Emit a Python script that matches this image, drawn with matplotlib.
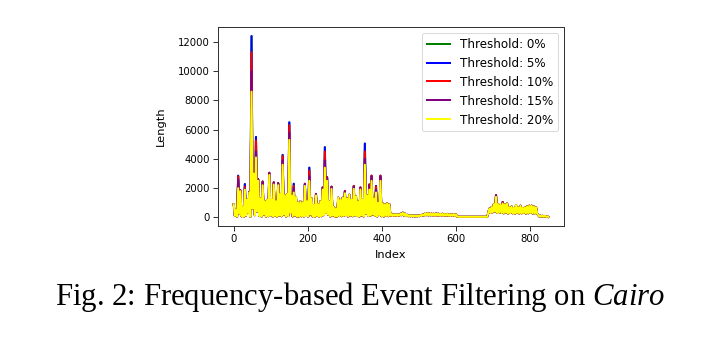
import numpy as np
import matplotlib
matplotlib.use("Agg")
import matplotlib.pyplot as plt

plt.rcParams["mathtext.fontset"] = "custom"
plt.rcParams["mathtext.rm"] = "Liberation Serif"
plt.rcParams["mathtext.it"] = "Liberation Serif:italic"

# Event length per index for the 20% threshold: local maxima (every 6th index)
# and the minima lying between them.
len20_peaks = [
    900, 500, 2000, 1800, 700, 1900, 1200, 1700, 8600, 3000,
    4100, 2500, 1300, 2200, 1100, 1200, 2900, 1200, 2250, 1100,
    2200, 1600, 3600, 1500, 1600, 5300, 1500, 1700, 1400, 1000,
    1100, 1000, 2150, 1100, 2500, 1300, 850, 1500, 900, 1100,
    1900, 3400, 2500, 1100, 1950, 700, 600, 1350, 1200, 1350,
    1650, 1300, 1550, 1200, 1950, 1450, 1100, 1900, 1200, 3600,
    1500, 1900, 2500, 1300, 1700, 1000, 2500, 950, 900, 950,
    900,
    250, 200, 220, 200, 250, 330, 260, 180, 150, 140,
    140, 130, 140, 150, 200, 250, 290, 270, 260, 250,
    270, 260, 240, 250, 230, 240, 220, 210, 230, 200,
    40,
    40, 40, 40, 40, 40, 40, 40, 40, 40, 40, 40, 40, 40,
    600, 700, 900, 1400, 900, 850, 950, 900, 950, 700,
    750, 650, 850, 700, 800, 650, 700, 750, 800, 800,
    750, 700,
    150, 120, 110, 100, 80,
]
len20_troughs = [
    100, 60, 250, 80, 40, 120, 300, 50, 600, 150,
    400, 90, 60, 200, 50, 80, 150, 60, 100, 40,
    130, 80, 200, 60, 90, 300, 70, 120, 50, 40,
    80, 60, 150, 50, 200, 70, 40, 100, 60, 80,
    150, 300, 180, 60, 120, 40, 50, 90, 80, 100,
    150, 60, 120, 80, 140, 90, 60, 130, 70, 250,
    90, 120, 200, 100, 70, 160, 80, 60, 100, 80,
    120, 100, 110, 100, 120, 150, 130, 90, 80, 70,
    70, 60, 70, 80, 100, 130, 150, 140, 130, 120,
    140, 130, 120, 130, 110, 120, 110, 100, 110, 100,
    60,
    40, 40, 40, 40, 40, 40, 40, 40, 40, 40, 40, 40, 40,
    300,
    300, 350, 400, 300, 350, 300, 280, 320, 260, 300,
    280, 250, 300, 260, 280, 300, 250, 280, 300, 260,
    280, 250,
    60, 50, 40, 40, 30,
]

# Indices where the lower thresholds keep longer events than 20%
cap_idx = [12, 18, 30, 42, 48, 54, 60, 66, 78, 96, 108, 120, 132, 150, 162, 192,
           204, 222, 240, 246, 252, 264, 300, 324, 342, 354, 366, 372, 384, 396,
           708, 726]
len15_caps = [2600, 1850, 2000, 1750, 10000, 3050, 4500, 2600, 2400, 3000, 2350,
              2300, 3900, 5800, 2000, 2280, 2800, 1580, 2000, 3900, 2700, 2050,
              1750, 2100, 2000, 4000, 2200, 2800, 1900, 2800, 1500, 1000]
len10_caps = [2800, 1850, 2100, 1750, 11300, 3100, 5250, 2600, 2450, 3050, 2400,
              2350, 4200, 6300, 2150, 2300, 3200, 1600, 2050, 4500, 2750, 2100,
              1800, 2150, 2050, 4500, 2250, 2850, 2100, 2850, 1520, 1050]
len5_caps = [2850, 1850, 2280, 1750, 12400, 3100, 5500, 2600, 2450, 3050, 2400,
             2350, 4270, 6500, 2300, 2300, 3400, 1600, 2050, 4800, 2750, 2100,
             1800, 2150, 2050, 5050, 2250, 2850, 2150, 2850, 1520, 1050]
len0_caps = list(len5_caps)

thresholds = ["0%", "5%", "10%", "15%", "20%"]
colors = ["green", "blue", "red", "purple", "yellow"]

# Interleave maxima and minima into one index-ordered series
peaks = np.asarray(len20_peaks, dtype=float)
troughs = np.asarray(len20_troughs, dtype=float)
x_peaks = 6 * np.arange(len(peaks))
x_troughs = x_peaks + 3
index = np.empty(2 * len(peaks), dtype=int)
index[0::2] = x_peaks
index[1::2] = x_troughs
base = np.empty(2 * len(peaks))
base[0::2] = peaks
base[1::2] = troughs


def with_caps(values):
    s = base.copy()
    for i, v in zip(cap_idx, values):
        s[index == i] = v
    return s


series = [with_caps(len0_caps), with_caps(len5_caps), with_caps(len10_caps),
          with_caps(len15_caps), base]

dpi = 66
fig = plt.figure(figsize=(720 / dpi, 344 / dpi), dpi=dpi)
ax = fig.add_axes([0.3028, 0.343, 0.4805, 0.5785])

for lab, col, s in zip(thresholds, colors, series):
    ax.plot(index, s, color=col, lw=2.2, label=f"Threshold: {lab}")

ax.set_xlabel("Index", fontsize=12.5, labelpad=7)
ax.set_ylabel("Length", fontsize=12.5, labelpad=14)
ax.set_xticks([0, 200, 400, 600, 800])
ax.set_yticks([0, 2000, 4000, 6000, 8000, 10000, 12000])
ax.tick_params(labelsize=11, length=5, width=1.1, color="#333333")
for sp in ax.spines.values():
    sp.set_linewidth(1.1)
    sp.set_color("#333333")
ax.legend(loc="upper right", fontsize=13)

fig.text(0.5, 1 - 305 / 344,
         r"Fig. 2: Frequency-based Event Filtering on $\mathit{Cairo}$",
         ha="center", va="baseline", fontsize=33.5, family="Liberation Serif")

fig.savefig("out.png", dpi=dpi)
